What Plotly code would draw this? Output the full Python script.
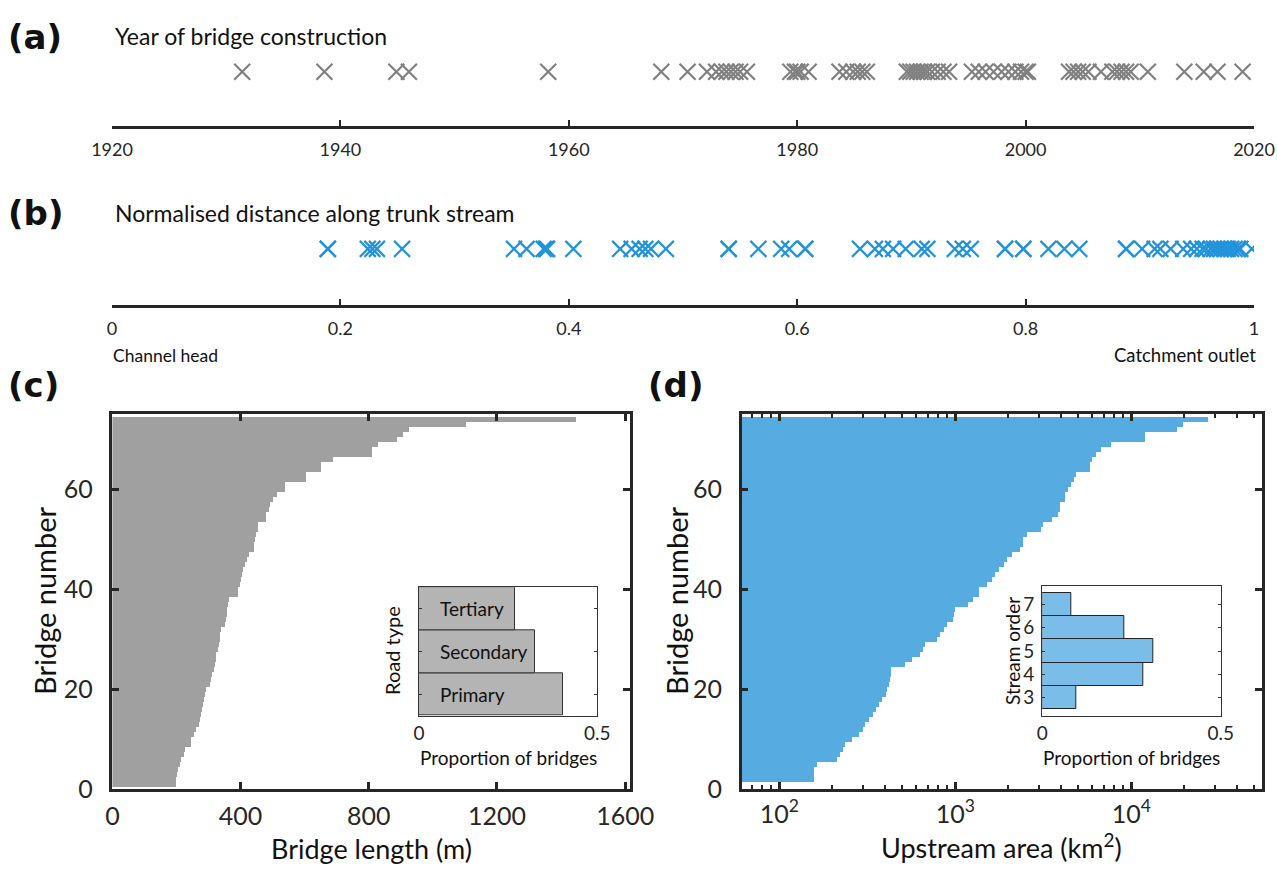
import plotly.graph_objects as go

W, H = 1277, 883
def px(x): return x / W
def py(y): return 1 - y / H

FONT = "Lato"
DARK = "#262626"

# ---------------- data ----------------
years = [1931.4, 1938.6, 1944.9, 1946.0, 1958.2, 1968.1, 1970.4,
         1972.1, 1972.9, 1973.4, 1973.8, 1974.2, 1974.6, 1975.0, 1975.6,
         1979.4, 1979.8, 1980.0, 1980.3, 1981.0,
         1983.7, 1984.3, 1984.9, 1985.3, 1985.7, 1986.1,
         1989.6, 1989.9, 1990.2, 1990.5, 1990.8, 1991.1, 1991.4, 1991.8, 1992.3, 1992.8, 1993.3,
         1995.3, 1995.9, 1996.5, 1997.2, 1997.9, 1998.5, 1999.1, 1999.6, 2000.0, 2000.2,
         2003.8, 2004.2, 2004.6, 2005.0, 2005.5, 2006.6, 2007.6, 2008.0, 2008.4, 2008.8, 2009.2, 2010.7,
         2013.9, 2015.6, 2016.8, 2019.0]

distance = [0.189, 0.189, 0.224, 0.228, 0.232, 0.254,
            0.352, 0.363, 0.378, 0.380, 0.381, 0.404,
            0.445, 0.455, 0.462, 0.467, 0.472, 0.485,
            0.540, 0.540, 0.566, 0.586, 0.593, 0.607, 0.607,
            0.655, 0.668, 0.675, 0.684, 0.695, 0.709, 0.714,
            0.738, 0.745, 0.752, 0.782, 0.782, 0.798, 0.798,
            0.820, 0.834, 0.847,
            0.888, 0.888, 0.902, 0.913, 0.918, 0.927, 0.938,
            0.945, 0.950, 0.955, 0.958, 0.962, 0.965, 0.968, 0.971, 0.974,
            0.977, 0.980, 0.983, 0.986, 0.988, 0.998]

bridge_no = list(range(1, 75))

length_m = [200, 200, 202, 206, 213, 216, 226, 228, 245, 247,
            257, 261, 271, 274, 278, 281, 284, 288, 291, 294,
            306, 309, 312, 319, 321, 323, 325, 332, 335, 336,
            338, 339, 352, 357, 359, 360, 362, 364, 393, 393,
            398, 401, 405, 408, 416, 421, 429, 442, 442, 446,
            449, 456, 456, 481, 481, 489, 494, 502, 514, 541,
            541, 606, 606, 652, 652, 689, 811, 811, 829, 889,
            907, 928, 1104, 1447]

area_km2 = [58, 156, 156, 156, 163, 212, 219, 228, 234, 258,
            281, 298, 303, 320, 340, 354, 365, 382, 399, 408,
            416, 420, 426, 431, 513, 565, 624, 653, 673, 784,
            818, 855, 893, 961, 983, 995, 1175, 1255, 1351, 1351,
            1507, 1610, 1667, 1755, 1890, 1960, 2090, 2332, 2403, 2403,
            2545, 3070, 3140, 3542, 3818, 3935, 3935, 4200, 4200, 4350,
            4528, 4680, 4830, 5823, 5823, 5955, 6277, 6700, 7670, 11970,
            11970, 18230, 19480, 27040]

road_types = ["Primary", "Secondary", "Tertiary"]
road_prop = [0.405, 0.324, 0.270]

stream_orders = [3, 4, 5, 6, 7]
stream_prop = [0.095, 0.284, 0.311, 0.230, 0.081]

year_ticks = [1920, 1940, 1960, 1980, 2000, 2020]
dist_ticks = [0, 0.2, 0.4, 0.6, 0.8, 1]
dist_ticklabels = ["0", "0.2", "0.4", "0.6", "0.8", "1"]
length_ticks = [0, 400, 800, 1200, 1600]
bridge_ticks = [0, 20, 40, 60]
area_ticks = [100, 1000, 10000]
area_ticklabels = ["10<sup>2</sup>", "10<sup>3</sup>", "10<sup>4</sup>"]
area_minor = [m * 10 ** k for k in (1, 2, 3, 4) for m in range(2, 10)]

# ---------------- figure ----------------
fig = go.Figure()

fig.add_trace(go.Scatter(x=years, y=[0.63] * len(years), mode="markers",
                         marker=dict(symbol="x-thin-open", size=16, color="#808080",
                                     line=dict(color="#808080", width=2.2)),
                         xaxis="x", yaxis="y", hoverinfo="x"))
fig.add_trace(go.Scatter(x=distance, y=[0.66] * len(distance), mode="markers",
                         marker=dict(symbol="x-thin-open", size=16, color="#2193db",
                                     line=dict(color="#2193db", width=2.2)),
                         xaxis="x2", yaxis="y2", hoverinfo="x"))
fig.add_trace(go.Bar(x=length_m, y=bridge_no, orientation="h", width=1,
                     marker=dict(color="#a0a0a0", line=dict(width=0)),
                     xaxis="x3", yaxis="y3"))
fig.add_trace(go.Bar(x=area_km2, y=bridge_no, orientation="h", width=1, base=1,
                     marker=dict(color="#56abe1", line=dict(width=0)),
                     xaxis="x4", yaxis="y4"))
fig.add_trace(go.Bar(x=road_prop, y=[1, 2, 3], orientation="h", width=1,
                     marker=dict(color="#b4b4b4", line=dict(color="#333333", width=1)),
                     xaxis="x5", yaxis="y5"))
fig.add_trace(go.Bar(x=stream_prop, y=stream_orders, orientation="h", width=1,
                     marker=dict(color="#7bbde9", line=dict(color="#222222", width=1)),
                     xaxis="x6", yaxis="y6"))

tickfont_small = dict(family=FONT, size=18, color=DARK)
tickfont_big = dict(family=FONT, size=25, color=DARK)
tickfont_inset = dict(family=FONT, size=19, color=DARK)

strip_x = dict(showline=True, linewidth=2.5, linecolor=DARK, ticks="inside",
               ticklen=6, tickwidth=2, tickcolor=DARK, showgrid=False, zeroline=False,
               tickfont=tickfont_small, ticklabelstandoff=6, automargin=False)
hidden_y = dict(visible=False, range=[0, 1], fixedrange=True, automargin=False)

main_axis = dict(showline=True, linewidth=2.5, linecolor=DARK, mirror="ticks",
                 ticks="inside", ticklen=7, tickwidth=2.5, tickcolor=DARK,
                 showgrid=False, zeroline=False, tickfont=tickfont_big, automargin=False)
inset_axis = dict(showline=True, linewidth=1.3, linecolor="#333333", mirror="ticks",
                  ticks="inside", ticklen=3, tickwidth=1, tickcolor="#333333",
                  showgrid=False, zeroline=False, tickfont=tickfont_inset, automargin=False)

fig.update_layout(
    width=W, height=H, margin=dict(l=0, r=0, t=0, b=0, pad=0, autoexpand=False),
    paper_bgcolor="white", plot_bgcolor="rgba(0,0,0,0)",
    showlegend=False, bargap=0, barmode="overlay",
    xaxis=dict(strip_x, domain=[px(112), px(1254)], range=[1920, 2020],
               tickvals=year_ticks, anchor="y"),
    yaxis=dict(hidden_y, domain=[py(126), py(40)], anchor="x"),
    xaxis2=dict(strip_x, domain=[px(112), px(1254)], range=[0, 1],
                tickvals=dist_ticks, ticktext=dist_ticklabels, anchor="y2"),
    yaxis2=dict(hidden_y, domain=[py(305), py(220)], anchor="x2"),
    xaxis3=dict(main_axis, domain=[px(112.4), px(630)], range=[0, 1615],
                tickvals=length_ticks, anchor="y3", ticklabelstandoff=3),
    yaxis3=dict(main_axis, domain=[py(789), py(414)], range=[0, 75],
                tickvals=bridge_ticks, anchor="x3", ticklabelstandoff=12),
    xaxis4=dict(main_axis, type="log", domain=[px(741.7), px(1262)],
                range=[1.786, 4.743], tickvals=area_ticks, ticktext=area_ticklabels,
                anchor="y4", ticklabelstandoff=1,
                minor=dict(tickvals=area_minor, ticks="inside", ticklen=4,
                           tickwidth=1.5, tickcolor=DARK)),
    yaxis4=dict(main_axis, domain=[py(789), py(414)], range=[0, 75],
                tickvals=bridge_ticks, anchor="x4", ticklabelstandoff=12),
    xaxis5=dict(inset_axis, domain=[px(419), px(597.3)], range=[0, 0.5],
                tickvals=[0, 0.5], ticktext=["0", "0.5"], anchor="y5",
                ticklabelstandoff=0),
    yaxis5=dict(inset_axis, domain=[py(715.7), py(587.3)], range=[0.5, 3.5],
                tickvals=[1, 2, 3], showticklabels=False, anchor="x5"),
    xaxis6=dict(inset_axis, domain=[px(1042.3), px(1220.7)], range=[0, 0.5],
                tickvals=[0, 0.5], ticktext=["0", "0.5"], anchor="y6",
                ticklabelstandoff=0),
    yaxis6=dict(inset_axis, domain=[py(715.7), py(586)], range=[2.22, 7.8],
                tickvals=stream_orders, anchor="x6", ticklabelstandoff=3),
)

def ann(text, x, y, size, xanchor="left", yanchor="middle", bold=False, angle=0,
        family=FONT):
    fig.add_annotation(text=f"<b>{text}</b>" if bold else text, x=x, y=y,
                       xref="paper", yref="paper", showarrow=False,
                       xanchor=xanchor, yanchor=yanchor, textangle=angle,
                       font=dict(family=family, size=size, color="#111111"))

# panel letters
for lab, xx, yy in [("(a)", 6, 37), ("(b)", 6, 213), ("(c)", 6, 385), ("(d)", 646, 385)]:
    ann(lab, px(xx), py(yy), 34, bold=True, family="DejaVu Sans")

# strip titles
ann("Year of bridge construction", px(113), py(36), 23)
ann("Normalised distance along trunk stream", px(113), py(213), 23)
ann("Channel head", px(111), py(355), 17.5)
ann("Catchment outlet", px(1258), py(355), 18.5, xanchor="right")

# main axis titles
ann("Bridge length (m)", px(371), py(848), 27, xanchor="center")
ann("Upstream area (km<sup>2</sup>)", px(1001), py(846), 27, xanchor="center")
ann("Bridge number", px(44), py(601), 29, xanchor="center", angle=-90)
ann("Bridge number", px(676), py(601), 29, xanchor="center", angle=-90)

# inset titles
ann("Proportion of bridges", px(508), py(757), 19, xanchor="center")
ann("Proportion of bridges", px(1131), py(757), 19, xanchor="center")
ann("Road type", px(392), py(651), 20, xanchor="center", angle=-90)
ann("Stream order", px(1012), py(651), 19, xanchor="center", angle=-90)

# road type labels inside bars
for name, yv in zip(road_types, [1, 2, 3]):
    fig.add_annotation(text=name, x=0.052, y=yv, xref="x5", yref="y5", showarrow=False,
                       xanchor="left", yanchor="middle",
                       font=dict(family=FONT, size=19, color="#111111"))

fig.write_html("out.html")
